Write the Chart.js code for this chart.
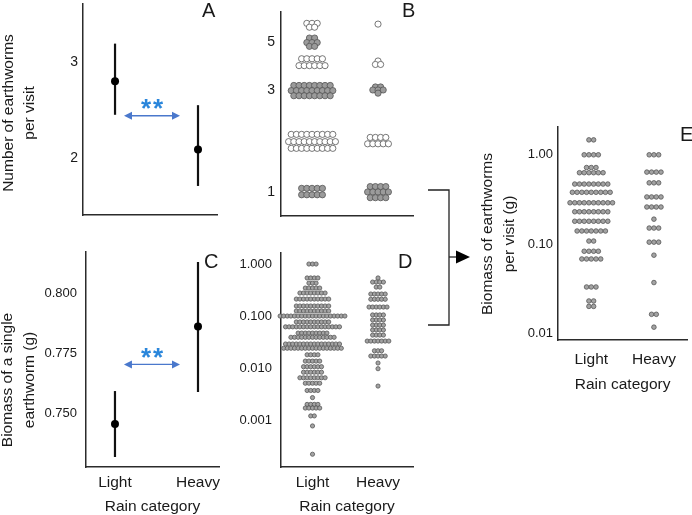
<!DOCTYPE html>
<html>
<head>
<meta charset="utf-8">
<script src="https://cdn.jsdelivr.net/npm/chart.js@4.4.1/dist/chart.umd.min.js"></script>
<style>
    body { margin: 0; background: #fff; }
    #page { position: relative; width: 692px; height: 515px; overflow: hidden; font-family: "Liberation Sans", Arial, sans-serif; color: #1a1a1a; }
    #page canvas, #page svg { position: absolute; }
    .yt { position: absolute; width: 240px; text-align: center; white-space: nowrap; font-size: 15.5px; transform: rotate(-90deg); }
    .tag { position: absolute; font-size: 20px; line-height: 20px; }
</style>
</head>
<body>
<div id="page">
    <svg width="692" height="515" style="left:0;top:0">
        <polyline points="428,190 449,190 449,325 428,325" fill="none" stroke="#222" stroke-width="1.3"/>
        <line x1="449" y1="257" x2="457" y2="257" stroke="#222" stroke-width="1.3"/>
        <polygon points="456,250.5 470,257 456,263.5" fill="#000"/>
    </svg>

    <canvas id="chartA" width="230" height="230" style="left:0;top:0"></canvas>
    <canvas id="chartB" width="170" height="230" style="left:250px;top:0"></canvas>
    <canvas id="chartC" width="230" height="274" style="left:0;top:240px"></canvas>
    <canvas id="chartD" width="195" height="274" style="left:225px;top:240px"></canvas>
    <canvas id="chartE" width="222" height="282" style="left:470px;top:110px"></canvas>

    <div class="yt" style="left:-102.5px;top:92px;line-height:21px">Number of earthworms<br>per visit</div>
    <div class="yt" style="left:-102px;top:358px;line-height:22px">Biomass of a single<br>earthworm (g)</div>
    <div class="yt" style="left:378px;top:212px;line-height:22px">Biomass of earthworms<br>per visit (g)</div>

    <div class="tag" style="left:202px;top:0">A</div>
    <div class="tag" style="left:402px;top:0">B</div>
    <div class="tag" style="left:204px;top:251px">C</div>
    <div class="tag" style="left:398px;top:251px">D</div>
    <div class="tag" style="left:680px;top:124px">E</div>
</div>

<script>
const categories = ['Light', 'Heavy'];

// A: number of earthworms per visit (mean and interval)
const wormsMean = [2.80, 2.09];
const wormsLow = [2.45, 1.71];
const wormsHigh = [3.19, 2.55];
const wormsTicks = [2, 3];

// C: biomass of a single earthworm (g)
const massMean = [0.7454, 0.7863];
const massLow = [0.7315, 0.7588];
const massHigh = [0.7592, 0.8134];
const massTicks = [0.750, 0.775, 0.800];

// B: earthworms per visit, one dot per visit (rows of dots, log axis)
const countTicks = [1, 3, 5];
const countLightLevels = [6.15, 5.9, 5.25, 5.0, 4.8, 4.2, 3.9, 3.15, 2.98, 2.82, 1.86, 1.72, 1.6, 1.04, 0.97];
const countLightDots = [3, 2, 2, 3, 2, 5, 6, 8, 9, 8, 9, 10, 9, 5, 5];
const countHeavyLevels = [6.1, 4.1, 3.95, 3.1, 3.0, 2.9, 1.8, 1.68, 1.06, 1.0, 0.94];
const countHeavyDots = [1, 1, 2, 2, 3, 1, 4, 5, 4, 5, 4];

// D: biomass of single earthworms (g)
const singleTicks = [0.001, 0.01, 0.1, 1];
const singleLightLevels = [1.0, 0.54, 0.43, 0.345, 0.277, 0.212, 0.156, 0.125, 0.100, 0.077, 0.062, 0.047, 0.039, 0.029, 0.024,
    0.018, 0.0136, 0.0106, 0.0083, 0.0065, 0.0051, 0.0037, 0.0027, 0.0020, 0.0017, 0.0012, 0.00077, 0.00022];
const singleLightDots = [3, 4, 3, 5, 8, 10, 10, 10, 19, 10, 16, 9, 13, 16, 17, 4, 5, 6, 6, 8, 5, 4, 1, 4, 5, 2, 1, 1];
const singleHeavyLevels = [0.54, 0.45, 0.36, 0.265, 0.21, 0.149, 0.105, 0.084, 0.067, 0.054, 0.043, 0.033, 0.0215, 0.017, 0.0125, 0.0097, 0.0045];
const singleHeavyDots = [1, 4, 2, 5, 5, 6, 4, 4, 4, 4, 4, 7, 3, 5, 1, 1, 1];

// E: biomass of earthworms per visit (g)
const visitTicks = [0.01, 0.1, 1];
const visitLightLevels = [1.47, 1.0, 0.72, 0.63, 0.47, 0.38, 0.29, 0.23, 0.18, 0.14, 0.108, 0.083, 0.068, 0.033, 0.023, 0.020];
const visitLightDots = [2, 4, 3, 6, 8, 9, 10, 8, 8, 7, 2, 4, 5, 3, 2, 2];
const visitHeavyLevels = [1.0, 0.64, 0.485, 0.337, 0.26, 0.19, 0.151, 0.105, 0.075, 0.037, 0.0163, 0.0117];
const visitHeavyDots = [3, 4, 3, 4, 4, 1, 3, 3, 1, 1, 2, 1];

const FONT = '"Liberation Sans", Arial, sans-serif';
const INK = '#1a1a1a';
const AXIS = '#2b2b2b';

// lay each row of dots side by side around the category
function swarm(levels, counts, cat, step) {
    const pts = [];
    levels.forEach((v, r) => {
        const n = counts[r];
        for (let i = 0; i < n; i++) pts.push({ x: cat + (i - (n - 1) / 2) * step, y: v });
    });
    return pts;
}

// double arrow with ** between the two groups
const sigMark = {
    id: 'sigMark',
    afterDatasetsDraw(chart, args, opts) {
        const { ctx, scales: { x, y } } = chart;
        const x0 = x.getPixelForValue(opts.from);
        const x1 = x.getPixelForValue(opts.to);
        const py = y.getPixelForValue(opts.at);
        ctx.save();
        ctx.strokeStyle = '#4a78cc';
        ctx.fillStyle = '#4a78cc';
        ctx.lineWidth = 1.4;
        ctx.beginPath();
        ctx.moveTo(x0 + 6, py);
        ctx.lineTo(x1 - 6, py);
        ctx.stroke();
        [[x0, 1], [x1, -1]].forEach(([px, d]) => {
            ctx.beginPath();
            ctx.moveTo(px, py);
            ctx.lineTo(px + d * 8, py - 4);
            ctx.lineTo(px + d * 8, py + 4);
            ctx.closePath();
            ctx.fill();
        });
        ctx.fillStyle = '#2a86db';
        ctx.font = 'bold 26px ' + FONT;
        ctx.textAlign = 'center';
        ctx.textBaseline = 'alphabetic';
        const m = ctx.measureText('*');
        const cy = py - opts.lift;
        const base = cy - (m.actualBoundingBoxDescent - m.actualBoundingBoxAscent) / 2;
        const mid = (x0 + x1) / 2;
        ctx.fillText('*', mid - 6, base);
        ctx.fillText('*', mid + 6, base);
        ctx.restore();
    }
};

function yAxis(o) {
    return {
        type: o.type || 'linear',
        min: o.min,
        max: o.max,
        afterBuildTicks: s => { s.ticks = o.ticks.map(v => ({ value: v })); },
        afterFit: s => { s.width = o.width; s.paddingTop = 0; s.paddingBottom = 0; },
        ticks: { autoSkip: false, padding: o.pad, color: INK, font: { family: FONT, size: o.size }, callback: o.fmt },
        grid: { display: false, drawTicks: false },
        border: { color: AXIS, width: 1.5 }
    };
}

function xAxis(o) {
    return {
        type: 'linear',
        min: o.min,
        max: o.max,
        afterBuildTicks: s => { s.ticks = [0, 1].map(v => ({ value: v })); },
        afterFit: s => { s.height = o.height; s.paddingLeft = 0; s.paddingRight = 0; },
        ticks: {
            display: !!o.labels, autoSkip: false, maxRotation: 0, padding: o.pad || 0,
            color: INK, font: { family: FONT, size: 15.5 }, callback: v => categories[v]
        },
        title: { display: !!o.labels, text: 'Rain category', color: INK, padding: 0, font: { family: FONT, size: 15.5, lineHeight: 1 } },
        grid: { display: false, drawTicks: false },
        border: { color: AXIS, width: 1.5 }
    };
}

function makeChart(id, datasets, pad, x, y, sig) {
    return new Chart(document.getElementById(id), {
        type: 'scatter',
        data: { datasets: datasets },
        options: {
            responsive: false,
            animation: false,
            events: [],
            layout: { padding: pad },
            plugins: { legend: { display: false }, tooltip: { enabled: false }, sigMark: sig || false },
            scales: { x: x, y: y }
        },
        plugins: [sigMark]
    });
}

// mean dots first so they sit on top of the interval lines
function intervalSets(mean, low, high) {
    const sets = [{
        data: mean.map((m, i) => ({ x: i, y: m })),
        pointRadius: 4, pointBackgroundColor: '#000', pointBorderColor: '#000', pointBorderWidth: 0, clip: false
    }];
    categories.forEach((c, i) => {
        sets.push({
            data: [{ x: i, y: low[i] }, { x: i, y: high[i] }],
            showLine: true, borderColor: '#111', borderWidth: 2.2, pointRadius: 0, clip: false
        });
    });
    return sets;
}

function dotSet(points, radius, fill) {
    return {
        data: points, pointRadius: radius, pointBackgroundColor: fill,
        pointBorderColor: '#555', pointBorderWidth: 0.8, clip: false
    };
}

// A
makeChart('chartA', intervalSets(wormsMean, wormsLow, wormsHigh),
    { left: 0, top: 0, right: 13, bottom: 0 },
    xAxis({ min: -0.386, max: 1.229, height: 15 }),
    yAxis({ min: 1.408, max: 3.602, ticks: wormsTicks, width: 83, pad: 5, size: 14, fmt: v => String(v) }),
    { from: 0.108, to: 0.783, at: 2.44, lift: 11.5 });

// B
const countFill = ctx => (Math.round(ctx.raw.y) % 2 === 0 ? '#ffffff' : '#9b9b9b');
makeChart('chartB', [
        dotSet(swarm(countLightLevels, countLightDots, 0, 5.2 / 66), 3.1, countFill),
        dotSet(swarm(countHeavyLevels, countHeavyDots, 1, 5.2 / 66), 3.1, countFill)
    ],
    { left: 0, top: 12, right: 7, bottom: 0 },
    xAxis({ min: -0.47, max: 1.53, height: 14 }),
    yAxis({ type: 'logarithmic', min: 0.772, max: 6.95, ticks: countTicks, width: 31, pad: 6, size: 14, fmt: v => String(v) }));

// C
makeChart('chartC', intervalSets(massMean, massLow, massHigh),
    { left: 0, top: 12, right: 11, bottom: 0 },
    xAxis({ min: -0.349, max: 1.253, height: 47, labels: true, pad: 6 }),
    yAxis({ min: 0.7273, max: 0.8176, ticks: massTicks, width: 86, pad: 9, size: 13, fmt: v => v.toFixed(3) }),
    { from: 0.108, to: 0.783, at: 0.7704, lift: 11 });

// D
makeChart('chartD', [
        dotSet(swarm(singleLightLevels, singleLightDots, 0, 3.6 / 65.5), 2.1, '#a3a3a3'),
        dotSet(swarm(singleHeavyLevels, singleHeavyDots, 1, 3.6 / 65.5), 2.1, '#a3a3a3')
    ],
    { left: 0, top: 13, right: 7, bottom: 0 },
    xAxis({ min: -0.481, max: 1.534, height: 47, labels: true, pad: 6 }),
    yAxis({ type: 'logarithmic', min: 0.000125, max: 1.63, ticks: singleTicks, width: 56, pad: 9, size: 13, fmt: v => v.toFixed(3) }));

// E
makeChart('chartE', [
        dotSet(swarm(visitLightLevels, visitLightDots, 0, 4.9 / 65), 2.3, '#a3a3a3'),
        dotSet(swarm(visitHeavyLevels, visitHeavyDots, 1, 4.9 / 65), 2.3, '#a3a3a3')
    ],
    { left: 0, top: 17, right: 0, bottom: 0 },
    xAxis({ min: -0.531, max: 1.531, height: 52, labels: true, pad: 10 }),
    yAxis({ type: 'logarithmic', min: 0.0084, max: 2.05, ticks: visitTicks, width: 88, pad: 5, size: 13, fmt: v => v.toFixed(2) }));
</script>
</body>
</html>
